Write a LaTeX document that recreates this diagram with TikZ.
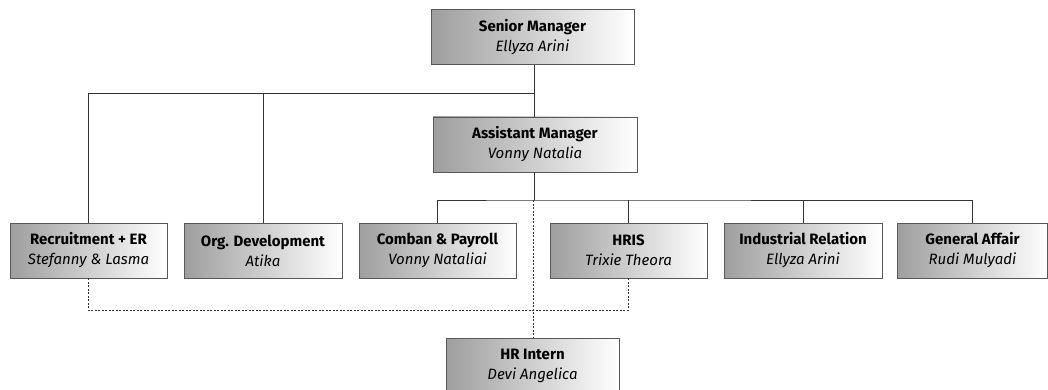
\documentclass[tikz,border=0pt]{standalone}
\usepackage{fontspec}
\setmainfont{Fira Sans}
\begin{document}
\begin{tikzpicture}[x=1pt,y=-1pt,
  orgbox/.style={draw=black!65, line width=0.8pt, left color=black!38, right color=white,
    shading angle=90, minimum height=55pt, align=center, inner sep=0pt,
    font=\fontsize{15}{20}\selectfont},
  conn/.style={line width=0.8pt, draw=black!80},
  dconn/.style={line width=0.8pt, draw=black!80, dash pattern=on 2pt off 1.5pt}]
\useasboundingbox (0,0) rectangle (1048,390);
\begin{scope}
\clip (0,0) rectangle (1048,390);
\node[orgbox, minimum width=203pt] (sm) at (532.5,37) {\textbf{Senior Manager}\\\textit{Ellyza Arini}};
\node[orgbox, minimum width=204pt] (am) at (535,144.5) {\textbf{Assistant Manager}\\\textit{Vonny Natalia}};
\node[orgbox, minimum width=157pt] (rec) at (88.5,250.5) {\textbf{Recruitment + ER}\\\textit{Stefanny \& Lasma}};
\node[orgbox, minimum width=158pt] (od) at (263,250.5) {\textbf{Org. Development}\\\textit{Atika}};
\node[orgbox, minimum width=157pt] (cp) at (437.5,250.5) {\textbf{Comban \& Payroll}\\\textit{Vonny Nataliai}};
\node[orgbox, minimum width=157pt] (hris) at (628.5,250.5) {\textbf{HRIS}\\\textit{Trixie Theora}};
\node[orgbox, minimum width=158pt] (ir) at (803,250.5) {\textbf{Industrial Relation}\\\textit{Ellyza Arini}};
\node[orgbox, minimum width=150pt] (ga) at (972.5,250.5) {\textbf{General Affair}\\\textit{Rudi Mulyadi}};
\node[orgbox, minimum width=173pt] (hri) at (532.5,365.5) {\textbf{HR Intern}\\\textit{Devi Angelica}};
\coordinate (j1) at (534,93);
\coordinate (j2) at (534,200);
% solid connectors
\draw[conn] (sm.south -| j1) -- (am.north -| j1);
\draw[conn] (j1) -| (rec.north);
\draw[conn] (j1 -| od.north) -- (od.north);
\draw[conn] (am.south -| j2) -- (j2);
\draw[conn] (cp.north) |- (j2) -| (ga.north);
\draw[conn] (j2 -| hris.north) -- (hris.north);
\draw[conn] (j2 -| ir.north) -- (ir.north);
% dashed connectors
\coordinate (d1) at (88,310);
\coordinate (d2) at (533,200);
\draw[dconn] (rec.south -| d1) -- (d1) -| (hris.south);
\draw[dconn] (d2) -- (hri.north -| d2);
\end{scope}
\end{tikzpicture}
\end{document}
